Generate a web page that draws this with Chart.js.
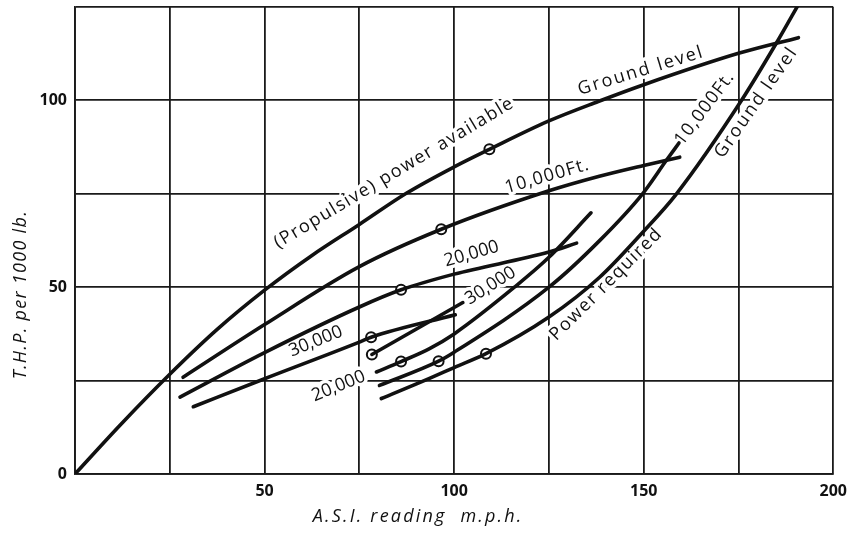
<!DOCTYPE html>
<html>
<head>
<meta charset="utf-8">
<script src="https://cdn.jsdelivr.net/npm/chart.js@4.4.1/dist/chart.umd.min.js"></script>
<style>
  html, body { margin: 0; padding: 0; background: #fff; }
  #wrap { width: 855px; height: 534px; }
</style>
</head>
<body>
<div id="wrap"><canvas id="chart" width="855" height="534"></canvas></div>
<script>
// T.H.P. per 1000 lb against A.S.I. reading (m.p.h.)
// power available (propulsive) at each height
var paGroundSpeed = [0, 12, 25, 37.5, 50, 62.5, 75, 87.5, 100, 109.3, 125, 138, 150, 175, 190.8];
var paGroundThp   = [0, 13.2, 26.7, 38.7, 49.2, 58.5, 66.8, 75.2, 82.2, 86.9, 94.5, 99.7, 104.2, 112.6, 116.8];
var pa10Speed = [28.5, 50, 75, 96.6, 125, 138.3, 150, 159.5];
var pa10Thp   = [25.9, 40, 55.5, 65.5, 75.8, 79.7, 82.6, 84.8];
var pa20Speed = [27.7, 50, 75, 86, 100, 125, 132.3];
var pa20Thp   = [20.6, 32.5, 44.7, 49.3, 53.5, 59.4, 61.8];
var pa30Speed = [31.2, 50, 75, 78.1, 100.3];
var pa30Thp   = [18, 25.5, 35.3, 36.6, 42.6];

// power required at each height
var prGroundSpeed = [80.8, 93.5, 100, 108.4, 125, 138.3, 150, 158.5, 175.6, 185.2, 191];
var prGroundThp   = [20.2, 25.6, 28.5, 32.2, 42, 52.6, 65, 74.8, 99.7, 115.7, 126];
var pr10Speed = [80.3, 95.9, 100, 125, 138.3, 149.7, 155.8, 159.3];
var pr10Thp   = [23.7, 30.2, 32.6, 50, 62.4, 75, 83.7, 88.6];
var pr20Speed = [79.5, 86, 93.4, 100, 115.9, 125, 136.1];
var pr20Thp   = [27.3, 30.1, 33.5, 37.5, 50, 58, 69.9];
var pr30Speed = [78.3, 102.3];
var pr30Thp   = [32, 45.9];

// ringed points (best climb / min power speeds)
var markerSpeed = [109.3, 96.6, 86, 78.1, 78.3, 86, 95.9, 108.4];
var markerThp   = [86.9, 65.5, 49.3, 36.6, 32, 30.1, 30.2, 32.2];

var xTickLabels = [50, 100, 150, 200];
var yTickLabels = [0, 50, 100];

// text written along the curves
var curveLabels = [
  { text: '(Propulsive) power available', x: 84.2, y: 80.6, angle: -31, spacing: 1.5 },
  { text: 'Ground level', x: 149.3, y: 107.9, angle: -17, spacing: 2 },
  { text: '10,000Ft.', x: 124.6, y: 79.7, angle: -16, spacing: 1.2 },
  { text: '20,000', x: 104.6, y: 58.9, angle: -16, spacing: 0 },
  { text: '30,000', x: 63.5, y: 35.5, angle: -22, spacing: 0 },
  { text: '30,000', x: 109.6, y: 50.4, angle: -32, spacing: 0 },
  { text: '20,000', x: 69.5, y: 23.5, angle: -22, spacing: 0 },
  { text: '10,000Ft.', x: 166.1, y: 97.9, angle: -53, spacing: 1.2 },
  { text: 'Ground level', x: 179.7, y: 99.5, angle: -55, spacing: 2 },
  { text: 'Power required', x: 140.1, y: 50.8, angle: -45, spacing: 1.5 }
];

function toPoints(xs, ys) {
  return xs.map(function (v, i) { return { x: v, y: ys[i] }; });
}

function curve(xs, ys) {
  return {
    data: toPoints(xs, ys),
    showLine: true,
    borderColor: '#111',
    borderWidth: 3.6,
    pointRadius: 0,
    cubicInterpolationMode: 'monotone',
    borderCapStyle: 'round'
  };
}

var ink = '#111';

function eachLabel(chart, draw) {
  var ctx = chart.ctx;
  var xs = chart.scales.x, ys = chart.scales.y;
  ctx.save();
  ctx.font = '500 18px "Open Sans"';
  ctx.textAlign = 'center';
  ctx.textBaseline = 'middle';
  curveLabels.forEach(function (l) {
    ctx.save();
    ctx.letterSpacing = l.spacing + 'px';
    ctx.translate(xs.getPixelForValue(l.x), ys.getPixelForValue(l.y));
    ctx.rotate(l.angle * Math.PI / 180);
    draw(ctx, l.text);
    ctx.restore();
  });
  ctx.restore();
}

var labelPlugin = {
  id: 'curveLabels',
  beforeDatasetsDraw: function (chart) {
    // white halo first so the grid is broken behind the lettering
    eachLabel(chart, function (ctx, t) {
      ctx.lineWidth = 7;
      ctx.lineJoin = 'round';
      ctx.strokeStyle = '#fff';
      ctx.strokeText(t, 0, 0);
    });
  },
  afterDatasetsDraw: function (chart) {
    eachLabel(chart, function (ctx, t) {
      ctx.fillStyle = ink;
      ctx.fillText(t, 0, 0);
    });
  },
  afterDraw: function (chart) {
    // axis titles, placed like in the original figure
    var ctx = chart.ctx;
    var xs = chart.scales.x, ys = chart.scales.y;
    ctx.save();
    ctx.fillStyle = ink;
    ctx.font = 'italic 18px "Open Sans"';
    ctx.textAlign = 'center';
    ctx.textBaseline = 'middle';
    ctx.letterSpacing = '2.2px';
    ctx.fillText('A.S.I. reading  m.p.h.', xs.getPixelForValue(90.5), chart.chartArea.bottom + 43);
    ctx.letterSpacing = '1.3px';
    ctx.translate(21, ys.getPixelForValue(48));
    ctx.rotate(-Math.PI / 2);
    ctx.fillText('T.H.P. per 1000 lb.', 0, 0);
    ctx.restore();
  }
};

var datasets = [
  curve(paGroundSpeed, paGroundThp),
  curve(pa10Speed, pa10Thp),
  curve(pa20Speed, pa20Thp),
  curve(pa30Speed, pa30Thp),
  curve(prGroundSpeed, prGroundThp),
  curve(pr10Speed, pr10Thp),
  curve(pr20Speed, pr20Thp),
  curve(pr30Speed, pr30Thp),
  {
    data: toPoints(markerSpeed, markerThp),
    pointRadius: 5,
    pointBackgroundColor: '#fff',
    pointBorderColor: ink,
    pointBorderWidth: 2
  },
  {
    data: toPoints(markerSpeed, markerThp),
    pointRadius: 1.3,
    pointBackgroundColor: ink,
    pointBorderWidth: 0
  }
];

var ctx = document.getElementById('chart').getContext('2d');
var chart = new Chart(ctx, {
  type: 'scatter',
  data: { datasets: datasets },
  options: {
    responsive: false,
    animation: false,
    devicePixelRatio: 1,
    layout: { padding: { top: 6, right: 20, left: 0, bottom: 0 } },
    plugins: {
      legend: { display: false },
      tooltip: { enabled: false }
    },
    scales: {
      x: {
        type: 'linear',
        min: 0,
        max: 200,
        afterFit: function (s) { s.height = 60; s.paddingLeft = 0; },
        grid: { color: '#1a1a1a', lineWidth: 1.8, drawTicks: false },
        border: { color: '#1a1a1a', width: 1.8 },
        ticks: {
          stepSize: 25,
          autoSkip: false,
          maxRotation: 0,
          padding: 8,
          color: ink,
          font: { family: 'Open Sans', size: 16, weight: 'bold' },
          callback: function (v) { return xTickLabels.indexOf(v) >= 0 ? String(v) : ''; }
        }
      },
      y: {
        type: 'linear',
        min: 0,
        max: 125,
        afterFit: function (s) { s.width = 75; s.paddingTop = 0; s.paddingBottom = 0; },
        grid: { color: '#1a1a1a', lineWidth: 1.8, drawTicks: false },
        border: { color: '#1a1a1a', width: 1.8 },
        ticks: {
          stepSize: 25,
          autoSkip: false,
          padding: 8,
          color: ink,
          font: { family: 'Open Sans', size: 16, weight: 'bold' },
          callback: function (v) { return yTickLabels.indexOf(v) >= 0 ? String(v) : ''; }
        }
      }
    }
  },
  plugins: [labelPlugin]
});
</script>
</body>
</html>
